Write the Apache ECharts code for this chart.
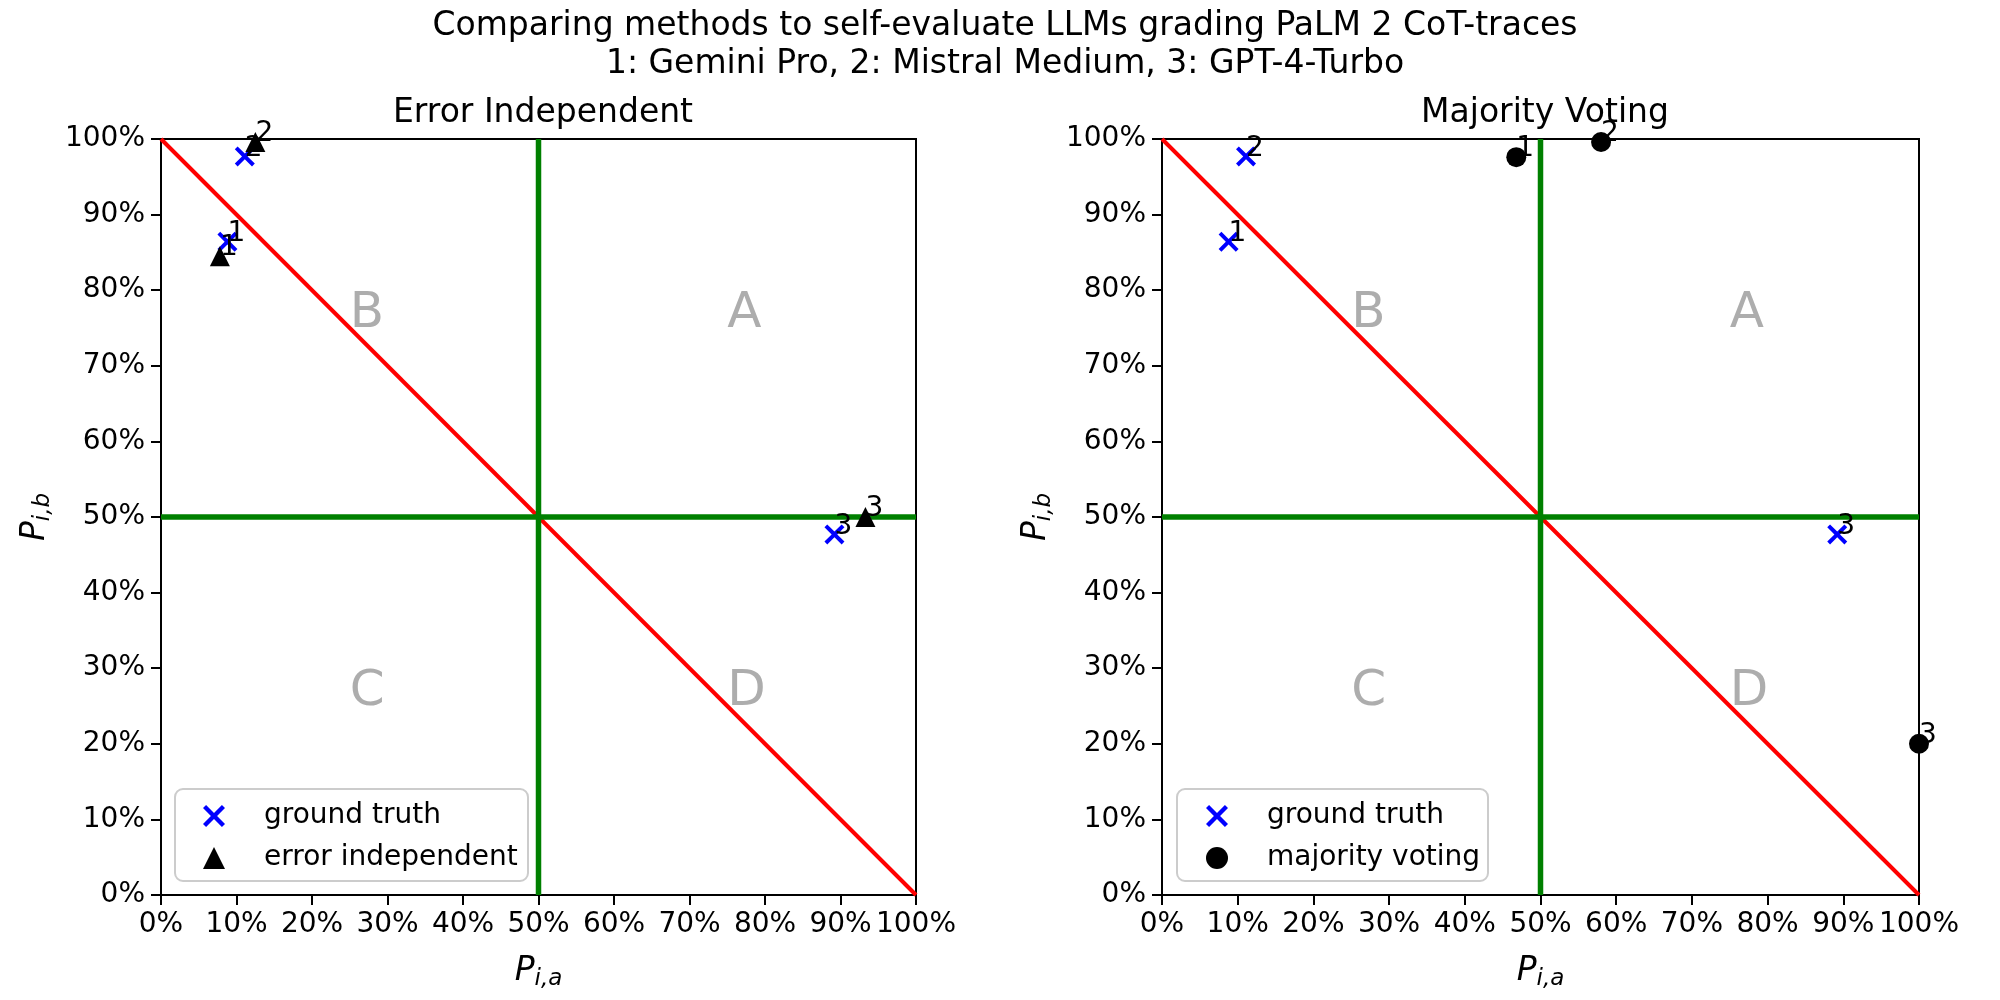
<!DOCTYPE html>
<html lang="en">
<head>
	<meta charset="UTF-8">
	<title>Self-evaluate LLMs</title>
	<script src="https://cdn.jsdelivr.net/npm/echarts@6/dist/echarts.min.js"></script>
	<style>
		body { margin: 0; background: #fff; }
		#main { width: 2000px; height: 1000px; }
	</style>
</head>
<body>
	<div id="main"></div>
	<script>
		// values (fractions, 0..1)
		const pointLabels = ['1', '2', '3'];
		const gtX = [0.088, 0.111, 0.892];
		const gtY = [0.864, 0.977, 0.477];
		const eiX = [0.078, 0.125, 0.933];
		const eiY = [0.845, 0.996, 0.500];
		const mvX = [0.468, 0.580, 1.000];
		const mvY = [0.976, 0.996, 0.200];
		const regionNames = ['A', 'B', 'C', 'D'];
		const regionX = [0.75, 0.25, 0.25, 0.75];
		const regionY = [0.75, 0.75, 0.25, 0.25];

		const FONT = 'DejaVu Sans';
		const crossPath = 'path://M0,14 L14,0 L50,36 L86,0 L100,14 L64,50 L100,86 L86,100 L50,64 L14,100 L0,86 L36,50 Z';

		const grids = [
			{ left: 161, top: 139, width: 755, height: 756 },
			{ left: 1162, top: 139, width: 757, height: 756 }
		];

		function pts(xs, ys) {
			return xs.map((x, i) => ({ value: [x, ys[i]], name: pointLabels[i] }));
		}

		function axis(i, dim) {
			return {
				type: 'value', gridIndex: i, min: 0, max: 1, interval: 0.1,
				axisLine: { show: true, onZero: false, lineStyle: { color: '#000', width: 2 } },
				axisTick: { show: true, length: 10, lineStyle: { color: '#000', width: 2 } },
				splitLine: { show: false },
				axisLabel: {
					margin: 16, color: '#000', fontSize: 28, fontFamily: FONT,
					formatter: v => Math.round(v * 100) + '%'
				},
				name: dim === 'x' ? '{p|P}{s|i,a}' : '{p|P}{s|i,b}',
				nameLocation: 'middle',
				nameGap: dim === 'x' ? 56 : 106,
				nameRotate: dim === 'x' ? 0 : 90,
				nameTextStyle: {
					rich: {
						p: { fontSize: 33, fontStyle: 'italic', fontFamily: FONT, color: '#000', lineHeight: 40, verticalAlign: 'middle' },
						s: { fontSize: 23, fontStyle: 'italic', fontFamily: FONT, color: '#000', lineHeight: 40, verticalAlign: 'bottom' }
					}
				}
			};
		}

		function line(i, data, color, width) {
			return {
				type: 'line', xAxisIndex: i, yAxisIndex: i, data: data, symbol: 'none',
				lineStyle: { color: color, width: width }, z: 2, silent: true, animation: false
			};
		}

		function numberLabel(size) {
			return {
				show: true, formatter: '{b}', position: [size / 2, size / 2], offset: [0, 6],
				align: 'left', verticalAlign: 'bottom', fontSize: 28, fontFamily: FONT, color: '#000'
			};
		}

		function scatter(i, name, data, symbol, color) {
			return {
				type: 'scatter', name: name, xAxisIndex: i, yAxisIndex: i, data: data,
				symbol: symbol, symbolSize: 20, itemStyle: { color: color, opacity: 1 },
				label: numberLabel(20), z: 5, animation: false
			};
		}

		function regions(i) {
			return {
				type: 'scatter', xAxisIndex: i, yAxisIndex: i, symbolSize: 0, silent: true, z: 1,
				data: regionNames.map((n, k) => ({ value: [regionX[k], regionY[k]], name: n })),
				label: {
					show: true, formatter: '{b}', position: [0, 0], offset: [0, 11],
					align: 'left', verticalAlign: 'bottom', fontSize: 50, fontFamily: FONT, color: '#999999'
				},
				animation: false
			};
		}

		const series = [];
		const methods = [
			{ name: 'error independent', x: eiX, y: eiY, symbol: 'triangle' },
			{ name: 'majority voting', x: mvX, y: mvY, symbol: 'circle' }
		];
		methods.forEach((m, i) => {
			series.push(regions(i));
			series.push(line(i, [[0, 1], [1, 0]], '#ff0000', 4));
			series.push(line(i, [[0.5, 0], [0.5, 1]], '#008000', 5.5));
			series.push(line(i, [[0, 0.5], [1, 0.5]], '#008000', 5.5));
			series.push(scatter(i, 'ground truth', pts(gtX, gtY), crossPath, '#0000ff'));
			series.push(scatter(i, m.name, pts(m.x, m.y), m.symbol, '#000000'));
		});

		const legendLeft = [203, 1206];
		const option = {
			backgroundColor: '#fff',
			animation: false,
			title: [
				{
					text: 'Comparing methods to self-evaluate LLMs grading PaLM 2 CoT-traces\n1: Gemini Pro, 2: Mistral Medium, 3: GPT-4-Turbo',
					left: 1000, top: 2, textAlign: 'center',
					textStyle: { fontSize: 33, fontWeight: 'normal', fontFamily: FONT, color: '#000', lineHeight: 38 }
				},
				{
					text: 'Error Independent', left: 538, top: 92, textAlign: 'center',
					textStyle: { fontSize: 33, fontWeight: 'normal', fontFamily: FONT, color: '#000' }
				},
				{
					text: 'Majority Voting', left: 1540, top: 92, textAlign: 'center',
					textStyle: { fontSize: 33, fontWeight: 'normal', fontFamily: FONT, color: '#000' }
				}
			],
			legend: methods.map((m, i) => ({
				data: ['ground truth', m.name],
				orient: 'vertical', left: legendLeft[i], top: 801, padding: 0,
				itemWidth: 22, itemHeight: 22, itemGap: 12, selectedMode: false,
				textStyle: { fontSize: 28, fontFamily: FONT, color: '#000', lineHeight: 30, padding: [0, 0, 0, 34] }
			})),
			graphic: [
				{ type: 'rect', shape: { x: 175, y: 789, width: 353, height: 92, r: 8 }, style: { fill: 'rgba(255,255,255,0.8)', stroke: '#cccccc', lineWidth: 2 }, z: 0 },
				{ type: 'rect', shape: { x: 1177, y: 789, width: 311, height: 92, r: 8 }, style: { fill: 'rgba(255,255,255,0.8)', stroke: '#cccccc', lineWidth: 2 }, z: 0 }
			],
			grid: grids.map(g => Object.assign({ show: true, borderColor: '#000', borderWidth: 2, backgroundColor: '#fff' }, g)),
			xAxis: [axis(0, 'x'), axis(1, 'x')],
			yAxis: [axis(0, 'y'), axis(1, 'y')],
			series: series
		};

		const myChart = echarts.init(document.getElementById('main'));
		myChart.setOption(option);
	</script>
</body>
</html>
